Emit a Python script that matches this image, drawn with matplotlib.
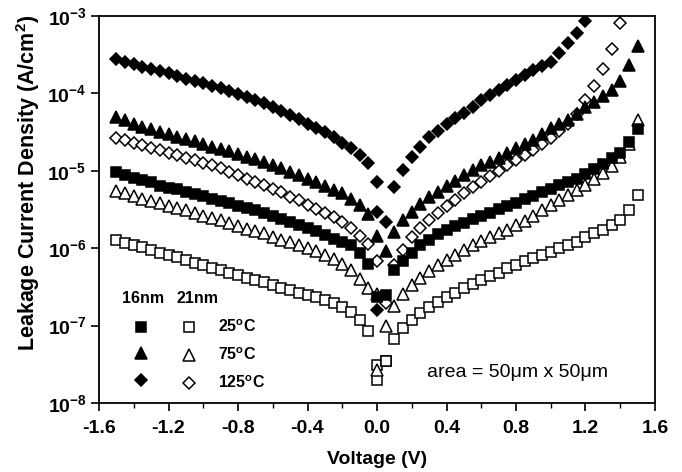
import matplotlib
matplotlib.use('Agg')
import matplotlib.pyplot as plt
from matplotlib.lines import Line2D
import numpy as np

plt.rcParams['font.family'] = ['Liberation Sans', 'DejaVu Sans']
plt.rcParams['mathtext.fontset'] = 'custom'
plt.rcParams['mathtext.rm'] = 'Liberation Sans'
plt.rcParams['mathtext.bf'] = 'Liberation Sans:bold'
plt.rcParams['mathtext.it'] = 'Liberation Sans:italic'
plt.rcParams['axes.unicode_minus'] = False

nan = float('nan')

# bias voltage of every measured point (V)
volts = [-1.50, -1.45, -1.40, -1.35, -1.30, -1.25, -1.20, -1.15, -1.10, -1.05,
         -1.00, -0.95, -0.90, -0.85, -0.80, -0.75, -0.70, -0.65, -0.60, -0.55,
         -0.50, -0.45, -0.40, -0.35, -0.30, -0.25, -0.20, -0.15, -0.10, -0.05,
         0.00, 0.05, 0.10, 0.15, 0.20, 0.25, 0.30, 0.35, 0.40, 0.45,
         0.50, 0.55, 0.60, 0.65, 0.70, 0.75, 0.80, 0.85, 0.90, 0.95,
         1.00, 1.05, 1.10, 1.15, 1.20, 1.25, 1.30, 1.35, 1.40, 1.45, 1.50]

# log10 of leakage current density (A/cm2)
logj_16nm_25c = [-5.01, -5.05, -5.09, -5.12, -5.15, -5.19, -5.22, -5.24, -5.27, -5.30,
                 -5.33, -5.36, -5.39, -5.42, -5.45, -5.48, -5.51, -5.55, -5.58, -5.62,
                 -5.66, -5.70, -5.74, -5.78, -5.83, -5.88, -5.92, -5.96, -6.06, -6.20,
                 -6.63, -6.61, -6.28, -6.16, -6.06, -5.96, -5.89, -5.82, -5.77, -5.71,
                 -5.67, -5.62, -5.58, -5.54, -5.50, -5.46, -5.41, -5.37, -5.33, -5.28,
                 -5.23, -5.18, -5.14, -5.10, -5.04, -4.98, -4.91, -4.84, -4.77, -4.63, -4.46]

logj_16nm_75c = [-4.31, -4.35, -4.40, -4.43, -4.46, -4.50, -4.53, -4.56, -4.59, -4.62,
                 -4.65, -4.69, -4.72, -4.75, -4.78, -4.82, -4.85, -4.89, -4.93, -4.97,
                 -5.01, -5.05, -5.10, -5.15, -5.20, -5.25, -5.29, -5.36, -5.44, -5.56,
                 -5.84, -6.04, -5.79, -5.64, -5.53, -5.43, -5.34, -5.27, -5.19, -5.13,
                 -5.05, -4.99, -4.93, -4.88, -4.83, -4.77, -4.71, -4.65, -4.60, -4.53,
                 -4.45, -4.39, -4.34, -4.26, -4.17, -4.11, -4.03, -3.95, -3.84, -3.63, -3.39]

logj_16nm_125c = [-3.55, -3.59, -3.62, -3.66, -3.69, -3.71, -3.74, -3.78, -3.81, -3.84,
                  -3.87, -3.90, -3.93, -3.97, -4.01, -4.05, -4.09, -4.12, -4.17, -4.23,
                  -4.28, -4.33, -4.39, -4.45, -4.50, -4.56, -4.64, -4.71, -4.79, -4.90,
                  -5.14, -5.66, -5.21, -4.99, -4.82, -4.69, -4.56, -4.48, -4.40, -4.32,
                  -4.25, -4.17, -4.09, -4.02, -3.96, -3.89, -3.83, -3.76, -3.70, -3.65,
                  -3.59, -3.48, -3.35, -3.22, -3.06, nan, nan, nan, nan, nan, nan]

logj_21nm_25c = [-5.89, -5.93, -5.96, -5.99, -6.02, -6.06, -6.09, -6.12, -6.15, -6.19,
                 -6.22, -6.25, -6.28, -6.32, -6.35, -6.38, -6.41, -6.44, -6.48, -6.51,
                 -6.54, -6.58, -6.61, -6.63, -6.67, -6.71, -6.76, -6.83, -6.93, -7.07,
                 -7.51, -7.46, -7.17, -7.03, -6.93, -6.84, -6.76, -6.69, -6.63, -6.58,
                 -6.52, -6.46, -6.41, -6.36, -6.32, -6.26, -6.22, -6.17, -6.13, -6.09,
                 -6.05, -6.00, -5.96, -5.92, -5.86, -5.81, -5.76, -5.70, -5.64, -5.51, -5.31]

logj_21nm_75c = [-5.26, -5.29, -5.33, -5.36, -5.39, -5.42, -5.45, -5.48, -5.51, -5.55,
                 -5.58, -5.61, -5.64, -5.68, -5.71, -5.75, -5.78, -5.81, -5.85, -5.89,
                 -5.92, -5.96, -6.00, -6.04, -6.09, -6.14, -6.20, -6.28, -6.40, -6.52,
                 -6.59, -7.00, -6.75, -6.59, -6.48, -6.38, -6.30, -6.22, -6.15, -6.09,
                 -6.02, -5.96, -5.91, -5.86, -5.81, -5.76, -5.70, -5.65, -5.59, -5.51,
                 -5.44, -5.38, -5.31, -5.25, -5.18, -5.11, -5.03, -4.94, -4.82, -4.65, -4.34]

logj_21nm_125c = [-4.57, -4.60, -4.64, -4.67, -4.70, -4.73, -4.77, -4.80, -4.83, -4.86,
                  -4.90, -4.93, -4.97, -5.01, -5.05, -5.10, -5.14, -5.18, -5.23, -5.28,
                  -5.34, -5.38, -5.44, -5.50, -5.55, -5.60, -5.66, -5.74, -5.84, -5.95,
                  -6.17, -6.71, -6.22, -6.02, -5.86, -5.74, -5.64, -5.55, -5.46, -5.38,
                  -5.29, -5.21, -5.14, -5.07, -5.00, -4.93, -4.86, -4.80, -4.73, -4.65,
                  -4.58, -4.49, -4.40, -4.26, -4.09, -3.90, -3.68, -3.43, -3.09, nan, nan]

# stray points right at the zero crossing
extra_16nm_125c_v = [0.00, 0.00]
extra_16nm_125c_logj = [-5.53, -6.80]
extra_21nm_75c_v = [0.00]
extra_21nm_75c_logj = [-7.57]
extra_21nm_25c_v = [0.00, 0.05]
extra_21nm_25c_logj = [-7.70, -7.46]

temps = ['25$^\\mathbf{o}$C', '75$^\\mathbf{o}$C', '125$^\\mathbf{o}$C']

fig = plt.figure(figsize=(6.82, 4.72), dpi=100)
ax = fig.add_axes([0.1452, 0.1462, 0.8152, 0.8199])

sq = dict(marker='s', markersize=7.0, linestyle='none', markeredgecolor='black', markeredgewidth=1.1)
tri = dict(marker='^', markersize=8.2, linestyle='none', markeredgecolor='black', markeredgewidth=1.1)
dia = dict(marker='D', markersize=5.7, linestyle='none', markeredgecolor='black', markeredgewidth=1.1)

def pw(a):
    return np.power(10.0, np.array(a, dtype=float))

ax.plot(volts, pw(logj_21nm_25c), markerfacecolor='white', **sq)
ax.plot(extra_21nm_25c_v, pw(extra_21nm_25c_logj), markerfacecolor='white', **sq)
ax.plot(volts, pw(logj_21nm_75c), markerfacecolor='white', **tri)
ax.plot(extra_21nm_75c_v, pw(extra_21nm_75c_logj), markerfacecolor='white', **tri)
ax.plot(volts, pw(logj_21nm_125c), markerfacecolor='white', **dia)
ax.plot(volts, pw(logj_16nm_25c), markerfacecolor='black', **sq)
ax.plot(volts, pw(logj_16nm_75c), markerfacecolor='black', **tri)
ax.plot(volts, pw(logj_16nm_125c), markerfacecolor='black', **dia)
ax.plot(extra_16nm_125c_v, pw(extra_16nm_125c_logj), markerfacecolor='black', **dia)

ax.set_yscale('log')
ax.set_xlim(-1.6, 1.6)
ax.set_ylim(1e-8, 1e-3)

xt = [-1.6, -1.2, -0.8, -0.4, 0.0, 0.4, 0.8, 1.2, 1.6]
ax.set_xticks(xt)
ax.set_xticklabels(['%.1f' % v for v in xt], fontsize=14, fontweight='bold')
ax.set_xticks([-1.4, -1.0, -0.6, -0.2, 0.2, 0.6, 1.0, 1.4], minor=True)
yt = [1e-8, 1e-7, 1e-6, 1e-5, 1e-4, 1e-3]
ax.set_yticks(yt)
ax.set_yticklabels([r'$\mathbf{10^{-%d}}$' % e for e in [8, 7, 6, 5, 4, 3]], fontsize=14)
ax.yaxis.set_minor_locator(matplotlib.ticker.NullLocator())
ax.tick_params(axis='both', which='major', direction='out', length=6, width=1.2)
ax.tick_params(axis='x', which='major', pad=6)
ax.tick_params(axis='y', which='major', pad=3)
ax.tick_params(axis='x', which='minor', direction='out', length=3.5, width=1.0)
for s in ax.spines.values():
    s.set_linewidth(1.3)

ax.set_xlabel('Voltage (V)', fontsize=14, fontweight='bold', labelpad=10)
ax.set_ylabel(r'Leakage Current Density (A/cm$^\mathbf{2}$)', fontsize=15.5, fontweight='bold')
ax.yaxis.set_label_coords(-0.102, 0.57)

ax.text(0.59, 0.066, 'area = 50\u03bcm x 50\u03bcm', transform=ax.transAxes, fontsize=14)

# legend: column heads, then filled (16nm) and open (21nm) markers
ax.text(0.079, 0.271, '16nm', transform=ax.transAxes, fontsize=11.5,
        fontweight='bold', ha='center', va='center')
ax.text(0.178, 0.271, '21nm', transform=ax.transAxes, fontsize=11.5,
        fontweight='bold', ha='center', va='center')

handles = [Line2D([], [], markerfacecolor='black', **sq),
           Line2D([], [], markerfacecolor='black', **tri),
           Line2D([], [], markerfacecolor='black', **dia),
           Line2D([], [], markerfacecolor='white', **sq),
           Line2D([], [], markerfacecolor='white', **tri),
           Line2D([], [], markerfacecolor='white', **dia)]
labels = ['', '', ''] + temps
leg = ax.legend(handles, labels, ncol=2, frameon=False, loc='lower left',
                bbox_to_anchor=(0.061, 0.03), borderpad=0, borderaxespad=0,
                handlelength=1.0, handletextpad=1.3, columnspacing=0.7,
                labelspacing=0.72, prop={'size': 11.5, 'weight': 'bold'})

fig.savefig('out.png', dpi=100)
